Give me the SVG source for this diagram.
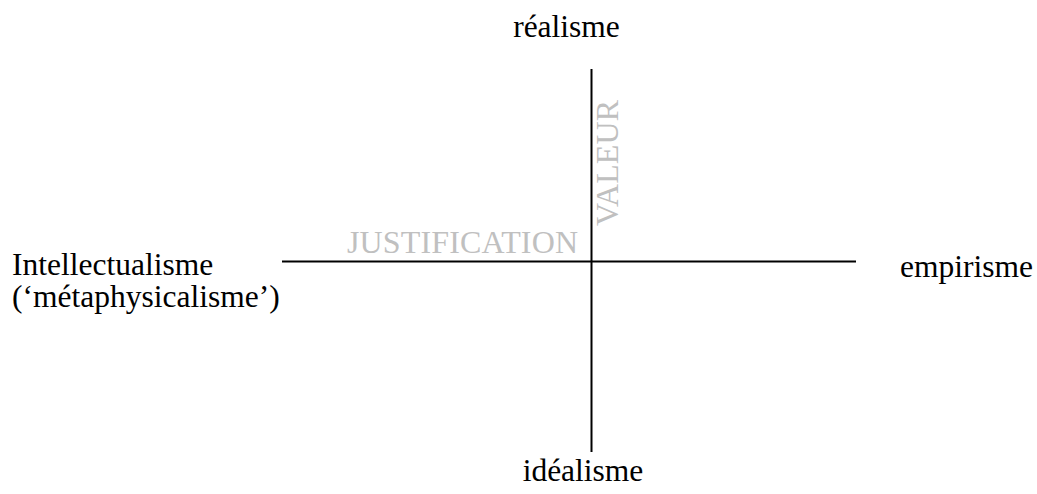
<svg xmlns="http://www.w3.org/2000/svg" width="1037" height="494" viewBox="0 0 1037 494">
<style>
.t{font-family:"Liberation Serif","Times New Roman",serif;font-size:31.5px;fill:#000}
.g{font-family:"Liberation Serif","Times New Roman",serif;font-size:32px;fill:#c0c0c0}
.ax{stroke:#000;stroke-width:2;fill:none}
</style>
<rect width="1037" height="494" fill="#fff"/>
<g id="connectors">
<line class="ax" x1="591.5" y1="69" x2="591.5" y2="452"/>
<line class="ax" x1="282" y1="261.5" x2="856" y2="261.5"/>
</g>
<g id="realisme"><text class="t" x="566.5" y="37" text-anchor="middle">réalisme</text></g>
<g id="idealisme"><text class="t" x="583" y="481" text-anchor="middle">idéalisme</text></g>
<g id="empirisme"><text class="t" x="900" y="277">empirisme</text></g>
<g id="intellectualisme"><text class="t" x="12" y="275">Intellectualisme</text><text class="t" x="12" y="307">(‘métaphysicalisme’)</text></g>
<g id="justification"><text class="g" x="347" y="253" textLength="231">JUSTIFICATION</text></g>
<g id="valeur"><text class="g" transform="translate(618,226) rotate(-90)" textLength="126">VALEUR</text></g>
</svg>
